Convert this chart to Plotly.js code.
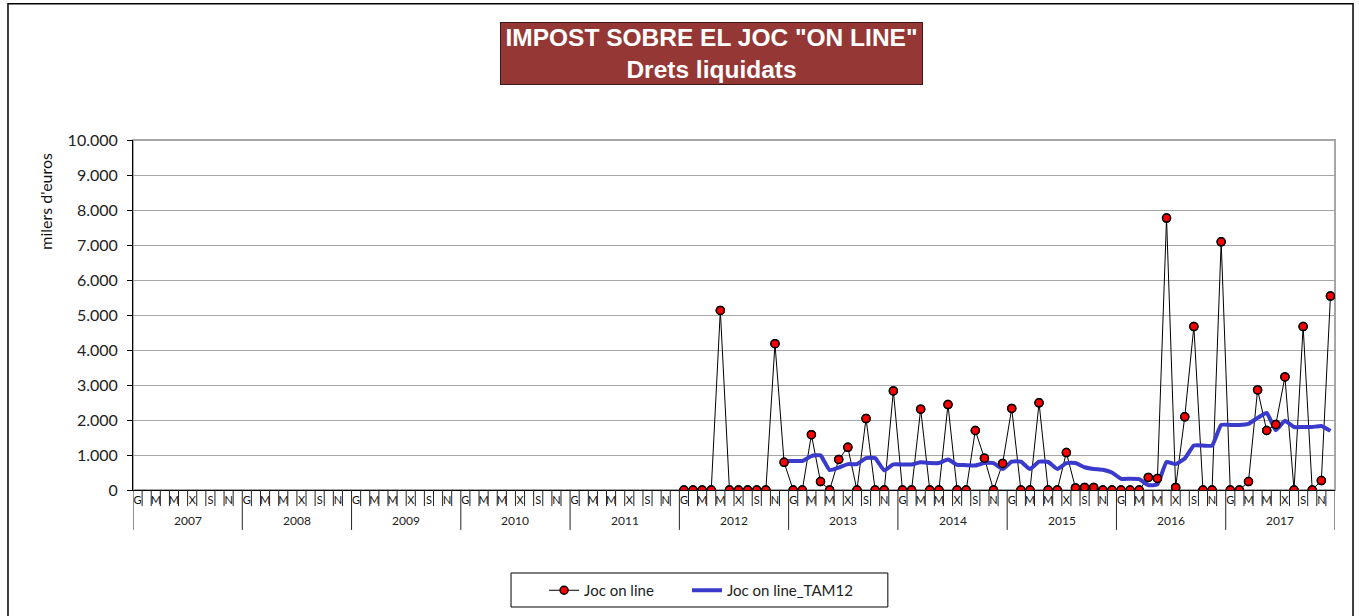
<!DOCTYPE html>
<html>
<head>
<meta charset="utf-8">
<script src="https://cdn.plot.ly/plotly-3.0.1.min.js"></script>
<style>html,body{margin:0;padding:0;background:#fff;} #chart{width:1359px;height:616px;}</style>
</head>
<body>
<div id="chart"></div>
<script>
// ---- data ----
const years = ['2007','2008','2009','2010','2011','2012','2013','2014','2015','2016','2017'];
const monthLabels = ['G','','M','','M','','X','','S','','N',''];
const firstDataYear = '2012';
// Joc on line, monthly, from Jan 2012 to Dec 2017 (milers d'euros)
const jocOnLine = [
  0, 0, 0, 0, 5130, 0, 0, 0, 0, 0, 4180, 790,
  0, 0, 1580, 240, 0, 875, 1220, 0, 2040, 0, 0, 2830,
  0, 0, 2310, 0, 0, 2440, 0, 0, 1700, 910, 0, 760,
  2330, 0, 0, 2490, 0, 0, 1070, 60, 75, 75, 0, 0,
  0, 0, 0, 360, 330, 7770, 75, 2090, 4670, 0, 0, 7090,
  0, 0, 240, 2860, 1700, 1870, 3230, 0, 4670, 0, 270, 5540
];
// Joc on line_TAM12, monthly, from Dec 2012 to Dec 2017
const tamStartMonth = 11; // December of first data year
const tam12 = [
  830,
  830, 830, 970, 990, 570, 640, 740, 740, 910, 910, 560, 730,
  730, 730, 790, 770, 770, 870, 720, 710, 700, 770, 770, 600,
  810, 810, 600, 810, 800, 600, 770, 770, 650, 600, 580, 500,
  320, 320, 310, 140, 160, 800, 740, 900, 1270, 1270, 1270, 1860,
  1860, 1860, 1890, 2060, 2200, 1710, 1980, 1800, 1800, 1800, 1830, 1690
];
const seriesNames = ['Joc on line', 'Joc on line_TAM12'];
const titleLines = ['IMPOST SOBRE EL JOC "ON LINE"', 'Drets liquidats'];
const yTitle = "milers d'euros";

// ---- build ----
const nMonths = years.length * 12;
const startIdx = years.indexOf(firstDataYear) * 12;
const xJoc = jocOnLine.map((v, i) => startIdx + i + 0.5);
const xTam = tam12.map((v, i) => startIdx + tamStartMonth + i + 0.5);

const tickvals = [], ticktext = [];
for (let i = 0; i < nMonths; i++) {
  const lab = monthLabels[i % 12];
  if (lab) { tickvals.push(i + 0.5); ticktext.push(lab); }
}

const fontFam = 'Lato, "Liberation Sans", Arial, sans-serif';

const shapes = [];
// plot-area frame (grey)
shapes.push({type:'rect', xref:'paper', yref:'paper', x0:0, x1:1, y0:0, y1:1,
  line:{color:'#a6a6a6', width:2}, layer:'below'});
// outer chart frame
shapes.push({type:'rect', xref:'paper', yref:'paper', x0:-0.104, x1:1.015, y0:-0.38, y1:1.389,
  line:{color:'#000', width:1.5}});
// legend frame
shapes.push({type:'rect', xref:'paper', yref:'paper', x0:0.3145, x1:0.628, y0:-0.3343, y1:-0.2371,
  line:{color:'#000', width:1}});
// month separators
for (let k = 0; k <= nMonths; k++) {
  if (k % 12 === 0) continue;
  shapes.push({type:'line', xref:'x', yref:'paper', x0:k, x1:k, y0:0, y1:-0.046,
    line:{color:'#222', width:1}});
}
// year separators
for (let y = 0; y <= years.length; y++) {
  shapes.push({type:'line', xref:'x', yref:'paper', x0:y*12, x1:y*12, y0:0, y1:-0.114,
    line:{color:'#222', width:1}});
}

const annotations = [];
years.forEach((yr, i) => {
  annotations.push({xref:'x', yref:'paper', x:i*12 + 6, y:-0.088, text:yr, showarrow:false,
    xanchor:'center', yanchor:'middle', font:{family:fontFam, size:12, color:'#222'}});
});
annotations.push({xref:'paper', yref:'paper', x:-0.0725, y:0.826, text:yTitle, textangle:-90,
  showarrow:false, xanchor:'center', yanchor:'middle', font:{family:fontFam, size:16, color:'#111'}});
annotations.push({xref:'paper', yref:'paper', x:0.4813, y:1.247,
  text:'<b>' + titleLines.join('<br>') + '</b>', showarrow:false, xanchor:'center', yanchor:'middle',
  width:419, height:59, bgcolor:'#953735', bordercolor:'#3a1a1a', borderwidth:1, borderpad:1,
  font:{family:'"Liberation Sans", Arial, sans-serif', size:24.5, color:'#fff'}});

const traces = [
  {x:xJoc, y:jocOnLine, name:seriesNames[0], type:'scatter', mode:'lines+markers', legend:'legend',
   line:{color:'#000', width:1},
   marker:{color:'#ff0000', size:8, line:{color:'#000', width:1.5}}},
  {x:xTam, y:tam12, name:seriesNames[1], type:'scatter', mode:'lines', legend:'legend2',
   line:{color:'#3a3acc', width:4, shape:'spline', smoothing:0.4}},
  {x:xJoc, y:jocOnLine, name:seriesNames[0], type:'scatter', mode:'markers', showlegend:false,
   marker:{color:'#ff0000', size:8, line:{color:'#000', width:1.5}}, hoverinfo:'skip'}
];

const legendCommon = {orientation:'h', xanchor:'left', y:-0.24, yanchor:'top',
  borderwidth:0, bgcolor:'rgba(0,0,0,0)', font:{family:fontFam, size:15, color:'#222'}};

const layout = {
  width:1359, height:616,
  margin:{l:133, r:24, t:140, b:126, pad:0, autoexpand:false},
  paper_bgcolor:'#fff', plot_bgcolor:'#fff',
  separators:',.',
  showlegend:true,
  legend:Object.assign({}, legendCommon, {x:0.3420}),
  legend2:Object.assign({}, legendCommon, {x:0.4609}),
  xaxis:{type:'linear', range:[0, nMonths], tickvals:tickvals, ticktext:ticktext,
    ticks:'', showgrid:false, zeroline:false, showline:true, linecolor:'#000', linewidth:1,
    tickfont:{family:fontFam, size:11, color:'#111'}, fixedrange:true, automargin:false},
  yaxis:{range:[0, 10000], dtick:1000, tick0:0, tickformat:',d', ticks:'outside', ticklen:5,
    tickcolor:'#000', showgrid:true, gridcolor:'#a6a6a6', gridwidth:1, zeroline:false,
    showline:true, linecolor:'#000', linewidth:1, ticklabelstandoff:6, automargin:false,
    tickfont:{family:fontFam, size:16, color:'#222'}, fixedrange:true},
  shapes:shapes,
  annotations:annotations
};

Plotly.newPlot('chart', traces, layout, {displayModeBar:false, staticPlot:true});
</script>
</body>
</html>
